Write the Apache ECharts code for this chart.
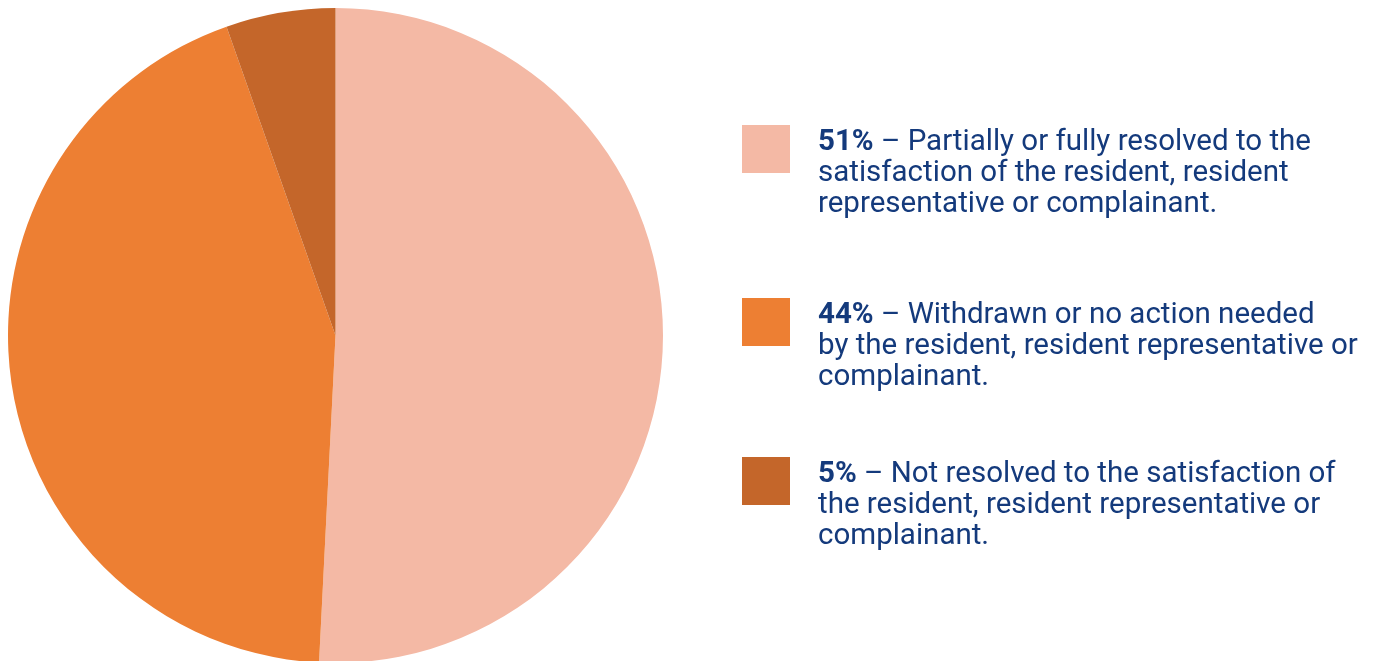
<!DOCTYPE html>
<html>
<head>
<meta charset="utf-8">
<script src="https://cdn.jsdelivr.net/npm/echarts@6/dist/echarts.min.js"></script>
<style>
html,body{margin:0;padding:0;background:#fff;}
#chart{width:1390px;height:661px;}
</style>
</head>
<body>
<div id="chart"></div>
<script>
const categories = ['Resolved', 'Withdrawn', 'Not resolved'];
const values = [50.8, 43.8, 5.4];
const pctLabels = ['51%', '44%', '5%'];
const descLines = [
  ['Partially or fully resolved to the', 'satisfaction of the resident, resident', 'representative or complainant.'],
  ['Withdrawn or no action needed', 'by the resident, resident representative or', 'complainant.'],
  ['Not resolved to the satisfaction of', 'the resident, resident representative or', 'complainant.']
];
const colors = ['#F4B9A5', '#ED7F33', '#C4662A'];

const TXT = '#143A7C';
const FONT = 'Roboto';
const FS = 29.5;
const LH = 31;
const PADTOP = 50;
const iconCenters = [149, 322, 481];

function legendFor(i) {
  const itemH = LH * 3 + PADTOP;
  return {
    orient: 'vertical',
    left: 737,
    top: iconCenters[i] - itemH / 2 - 5,
    itemWidth: 48,
    itemHeight: 48,
    icon: 'rect',
    selectedMode: false,
    data: [categories[i]],
    formatter: function () {
      const l = descLines[i];
      return '{b|' + pctLabels[i] + '} {n|– ' + l[0] + '}\n{n|' + l[1] + '}\n{n|' + l[2] + '}';
    },
    textStyle: {
      padding: [PADTOP, 0, 0, 23],
      color: TXT,
      fontFamily: FONT,
      fontSize: FS,
      lineHeight: LH,
      rich: {
        b: {fontWeight: 'bold', color: TXT, fontFamily: FONT, fontSize: FS, lineHeight: LH},
        n: {color: TXT, fontFamily: FONT, fontSize: FS, lineHeight: LH}
      }
    }
  };
}

const chart = echarts.init(document.getElementById('chart'), null, {renderer: 'canvas'});
chart.setOption({
  animation: false,
  color: colors,
  legend: [legendFor(0), legendFor(1), legendFor(2)],
  series: [{
    type: 'pie',
    center: [335.5, 335.5],
    radius: [0, 327.5],
    startAngle: 90,
    clockwise: true,
    label: {show: false},
    labelLine: {show: false},
    emphasis: {disabled: true},
    itemStyle: {borderWidth: 0},
    data: categories.map((c, i) => ({name: c, value: values[i]}))
  }]
});
</script>
</body>
</html>
